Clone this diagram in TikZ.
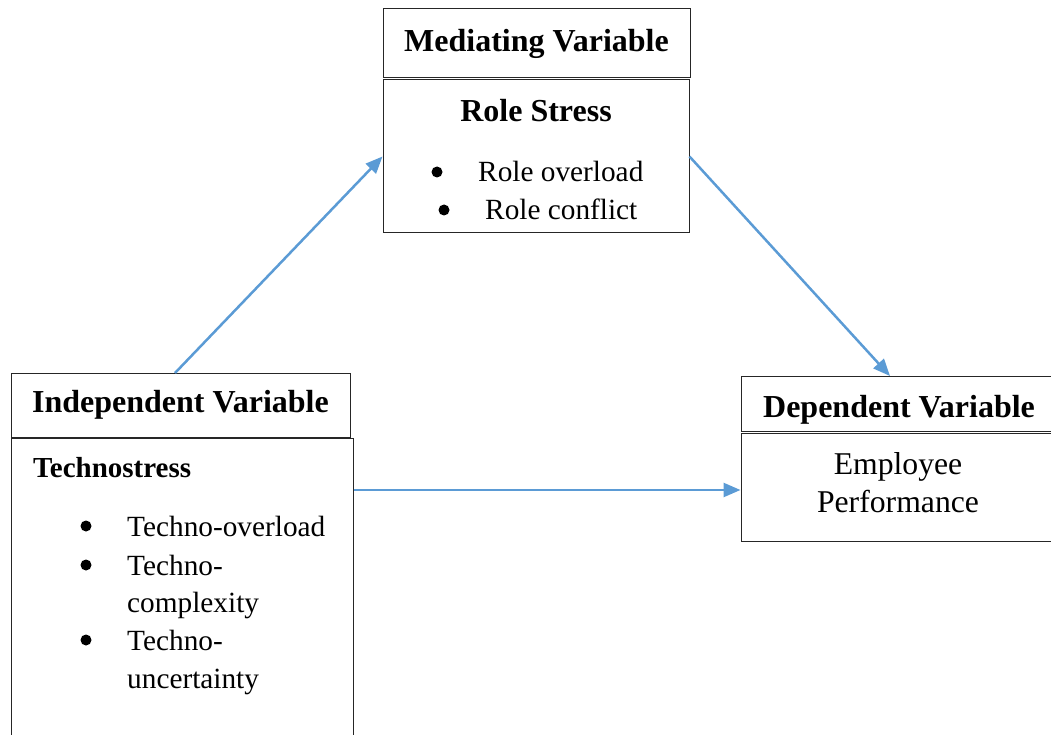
\documentclass[tikz,border=0pt]{standalone}
\usepackage{fontspec}
\setmainfont{Liberation Serif}
\usetikzlibrary{arrows.meta}
\definecolor{linkblue}{HTML}{5B9BD5}
\tikzset{
  box/.style={draw=black!85, line width=1pt, inner sep=0pt},
  headtxt/.style={font=\fontsize{32}{38}\selectfont\bfseries},
  itemtxt/.style={font=\fontsize{29.3}{36}\selectfont, anchor=base west, inner sep=0pt},
  dot/.style={circle, fill=black, minimum size=11pt, inner sep=0pt},
  link/.style={draw=linkblue, line width=2.5pt, -{Triangle[length=17pt,width=14pt]}},
}
\begin{document}
\begin{tikzpicture}[x=1pt, y=-1pt]
    \useasboundingbox (0,0) rectangle (1051,735);
    \clip (0,0) rectangle (1051,735);
    % mediating variable
    \node[box, headtxt, minimum width=307, minimum height=69] (medhead) at (536.5,43.5) {Mediating Variable};
    \node[box, minimum width=306, minimum height=153] (role) at (536,156.5) {};
    \node[headtxt, inner sep=0pt] (rolettl) at (536,111) {Role Stress};
    \node[dot] (rdot1) at (437,172) {};
    \node[itemtxt] (ritem1) at (478,182) {Role overload};
    \node[dot] (rdot2) at (444,210) {};
    \node[itemtxt] (ritem2) at (485,220) {Role conflict};
    % independent variable
    \node[box, headtxt, minimum width=339, minimum height=64] (indhead) at (180.5,405) {Independent Variable};
    \node[box, minimum width=342, minimum height=322] (tech) at (182,599) {};
    \node[font=\fontsize{29}{36}\selectfont\bfseries, anchor=base west, inner sep=0pt] (techttl) at (33,477) {Technostress};
    \node[dot] (tdot1) at (86,526) {};
    \node[itemtxt] (titem1) at (127,536) {Techno-overload};
    \node[dot] (tdot2) at (86,565) {};
    \node[itemtxt] (titem2) at (127,575) {Techno-};
    \node[itemtxt] (titem3) at (127,612) {complexity};
    \node[dot] (tdot3) at (86,640) {};
    \node[itemtxt] (titem4) at (127,650) {Techno-};
    \node[itemtxt] (titem5) at (127,688) {uncertainty};
    % dependent variable
    \node[box, minimum width=316, minimum height=55] (dephead) at (899,403.5) {};
    \node[headtxt, inner sep=0pt, anchor=base] (deptxt) at (899,417) {Dependent Variable};
    \node[box, minimum width=316, minimum height=108] (perf) at (899,487) {};
    \node[font=\fontsize{31.7}{38}\selectfont, align=center] (perftxt) at (898,483) {Employee\\Performance};
    % links
    \draw[link] (175,373) -- (role.west);
    \draw[link] (role.east) -- (890,376);
    \draw[link] (tech.east |- 0,490) -- ([yshift=-3pt]perf.west);
\end{tikzpicture}
\end{document}
